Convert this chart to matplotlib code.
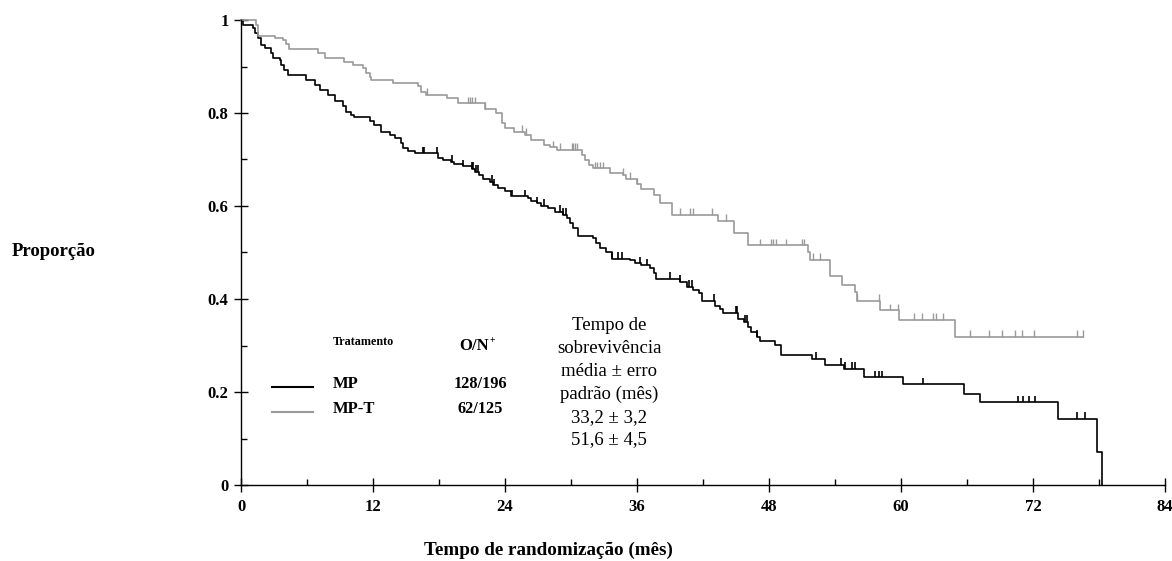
import numpy as np
import matplotlib
matplotlib.use("Agg")
import matplotlib.pyplot as plt
from matplotlib.ticker import MultipleLocator, FixedLocator

plt.rcParams['font.family'] = ['Liberation Serif', 'DejaVu Serif']

# ---- data ----
mp_times = [0, 0.2, 1.1, 1.25, 1.55, 1.85, 2.15, 2.75, 2.9, 3.5, 3.65, 3.95, 4.25, 5.9, 6.7,
            7.15, 7.9, 8.5, 9.25, 9.55, 10.0, 10.3, 11.7, 12.1, 12.7, 13.5, 14.0, 14.5, 14.7,
            15.2, 15.8, 17.9, 18.4, 19.1, 19.4, 20.2, 21.0, 21.3, 21.6, 22.0, 22.6, 22.9, 23.4,
            24.0, 24.5, 26.1, 26.4, 26.9, 27.3, 27.9, 28.5, 29.3, 29.6, 29.9, 30.2, 30.6, 32.0,
            32.3, 32.6, 33.2, 33.7, 35.4, 35.8, 36.4, 37.2, 37.5, 37.7, 39.9, 40.5, 41.1, 41.6,
            41.9, 43.1, 43.5, 43.8, 45.2, 45.7, 46.1, 46.4, 46.9, 47.2, 48.5, 49.1, 51.9, 53.1,
            54.8, 56.6, 60.2, 65.7, 67.2, 74.3, 77.8, 78.3]
mp_surv = [1.0, 0.99, 0.982, 0.971, 0.961, 0.946, 0.939, 0.928, 0.918, 0.914, 0.903, 0.892,
           0.882, 0.871, 0.860, 0.849, 0.839, 0.826, 0.814, 0.803, 0.796, 0.791, 0.783, 0.774,
           0.760, 0.753, 0.747, 0.735, 0.724, 0.718, 0.713, 0.704, 0.699, 0.695, 0.690, 0.685,
           0.680, 0.674, 0.667, 0.659, 0.652, 0.645, 0.638, 0.632, 0.621, 0.617, 0.611, 0.606,
           0.601, 0.595, 0.588, 0.581, 0.574, 0.563, 0.553, 0.536, 0.531, 0.520, 0.509, 0.502,
           0.487, 0.484, 0.477, 0.473, 0.466, 0.455, 0.443, 0.437, 0.426, 0.419, 0.412, 0.396,
           0.386, 0.378, 0.370, 0.358, 0.351, 0.340, 0.330, 0.319, 0.310, 0.301, 0.280, 0.271,
           0.259, 0.250, 0.232, 0.217, 0.196, 0.178, 0.142, 0.071, 0.0]
mp_censor = [16.5, 16.6, 17.8, 19.2, 20.2, 21.0, 21.1, 21.4, 21.5, 22.8, 23.0, 24.6, 25.8,
             26.9, 27.5, 29.0, 29.3, 29.5, 33.7, 34.3, 34.6, 36.3, 36.9, 39.0, 39.9, 40.7,
             41.0, 43.0, 45.0, 45.1, 45.8, 46.0, 46.9, 52.3, 54.5, 54.9, 55.5, 55.8, 57.6,
             58.0, 58.3, 62.0, 70.6, 71.1, 71.6, 72.2, 76.0, 76.7]

mpt_times = [0, 1.4, 1.55, 3.05, 3.8, 4.1, 4.4, 7.0, 7.6, 9.4, 10.2, 11.1, 11.4, 11.7, 11.8,
             13.8, 16.1, 16.4, 16.8, 18.7, 19.7, 22.2, 23.2, 23.7, 24.0, 24.8, 25.8, 26.4,
             27.5, 28.1, 28.7, 31.0, 31.3, 31.6, 32.0, 33.5, 34.7, 35.0, 36.0, 36.4, 37.5,
             38.1, 39.2, 43.4, 44.8, 46.1, 51.5, 51.7, 53.5, 54.6, 55.8, 56.0, 58.1, 59.8, 64.9]
mpt_surv = [1.0, 0.989, 0.966, 0.961, 0.957, 0.948, 0.937, 0.928, 0.918, 0.910, 0.903, 0.896,
            0.886, 0.878, 0.871, 0.864, 0.857, 0.846, 0.839, 0.832, 0.821, 0.809, 0.799, 0.778,
            0.767, 0.760, 0.753, 0.742, 0.731, 0.726, 0.721, 0.710, 0.699, 0.688, 0.681, 0.672,
            0.667, 0.659, 0.647, 0.637, 0.624, 0.606, 0.581, 0.568, 0.543, 0.516, 0.502, 0.484,
            0.450, 0.430, 0.416, 0.396, 0.376, 0.355, 0.319]
mpt_end = 76.5
mpt_censor = [16.9, 20.6, 20.8, 21.0, 21.3, 22.2, 25.5, 25.9, 28.4, 29.0, 30.1, 30.2, 30.4,
              30.5, 32.2, 32.4, 32.6, 32.9, 34.7, 35.4, 36.0, 39.9, 40.8, 41.1, 42.8, 44.1,
              47.2, 48.2, 48.4, 48.6, 49.5, 51.0, 51.2, 52.0, 52.6, 56.0, 58.0, 59.0, 59.7,
              61.2, 61.9, 62.9, 63.2, 63.8, 66.3, 68.0, 69.2, 70.4, 71.0, 72.1, 76.0, 76.5]

x_ticks = [0, 12, 24, 36, 48, 60, 72, 84]
y_ticks = [0, 0.2, 0.4, 0.6, 0.8, 1.0]
y_ticklabels = ['0', '0.2', '0.4', '0.6', '0.8', '1']

groups = ['MP', 'MP-T']
on_values = ['128/196', '62/125']
colors = ['#000000', '#9a9a9a']

W, H = 1172, 561
fig = plt.figure(figsize=(W / 100, H / 100), dpi=100)
ax = fig.add_axes([241 / W, 1 - 485 / H, (1165 - 241) / W, (485 - 20) / H])


def level_at(times, surv, t):
    i = np.searchsorted(times, t, side='right') - 1
    return np.asarray(surv)[i]


# MP curve
ax.step(mp_times, mp_surv, where='post', color=colors[0], lw=1.2, clip_on=False)
lv = level_at(mp_times, mp_surv, mp_censor)
ax.vlines(mp_censor, lv, lv + 0.014, color=colors[0], lw=1.2)

# MP-T curve
tt = list(mpt_times) + [mpt_end]
ss = list(mpt_surv) + [mpt_surv[-1]]
ax.step(tt, ss, where='post', color=colors[1], lw=1.2, clip_on=False)
lv = level_at(mpt_times, mpt_surv, mpt_censor)
ax.vlines(mpt_censor, lv, lv + 0.014, color=colors[1], lw=1.0)

ax.set_xlim(0, 84)
ax.set_ylim(0, 1)
ax.spines['top'].set_visible(False)
ax.spines['right'].set_visible(False)
for s in ['left', 'bottom']:
    ax.spines[s].set_linewidth(1.0)

ax.xaxis.set_major_locator(FixedLocator(x_ticks))
ax.xaxis.set_minor_locator(MultipleLocator(6))
ax.yaxis.set_major_locator(FixedLocator(y_ticks))
ax.yaxis.set_minor_locator(MultipleLocator(0.1))
ax.set_yticklabels(y_ticklabels)
ax.set_xticklabels([str(v) for v in x_ticks])
ax.tick_params(which='major', direction='inout', length=10, width=1.0, labelsize=12)
ax.tick_params(which='minor', direction='in', length=4, width=1.0)
ax.tick_params(axis='x', which='major', pad=5)
ax.tick_params(axis='y', which='major', pad=4)
for lab in ax.get_xticklabels() + ax.get_yticklabels():
    lab.set_fontweight('bold')


def ft(x, y, s, **kw):
    fig.text(x / W, 1 - y / H, s, **kw)


ft(12, 252, 'Proporção', ha='left', va='center', fontsize=13.5, fontweight='bold')
ft(548, 550, 'Tempo de randomização (mês)', ha='center', va='center', fontsize=13.8, fontweight='bold')

ft(333, 342, 'Tratamento', ha='left', va='center', fontsize=8.7, fontweight='bold')
ft(474, 346, 'O/N', ha='center', va='center', fontsize=12, fontweight='bold')
ft(490, 340, '+', ha='left', va='center', fontsize=7, fontweight='bold')
for i, (g, on, c) in enumerate(zip(groups, on_values, colors)):
    y = 384 + 25 * i
    fig.add_artist(plt.Line2D([272 / W, 313 / W], [1 - (y + 3) / H] * 2, color=c, lw=1.5))
    ft(333, y, g, ha='left', va='center', fontsize=12, fontweight='bold')
    ft(480, y, on, ha='center', va='center', fontsize=11.8, fontweight='bold')

info = ['Tempo de', 'sobrevivência', 'média ± erro', 'padrão (mês)', '33,2 ± 3,2', '51,6 ± 4,5']
for i, s in enumerate(info):
    ft(609, 326 + 22.8 * i, s, ha='center', va='center', fontsize=13.5)

fig.savefig('out.png', dpi=100)
